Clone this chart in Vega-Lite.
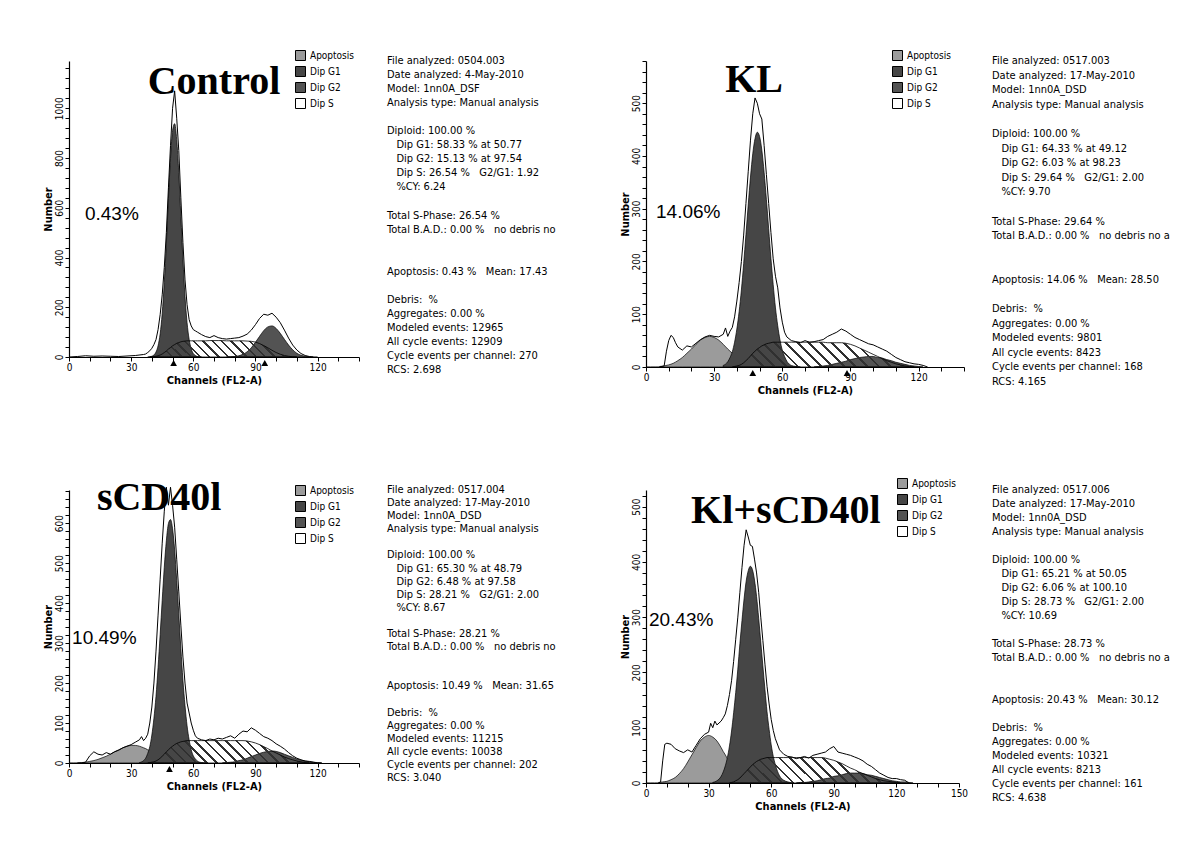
{
"$schema": "https://vega.github.io/schema/vega-lite/v6.json",
"background": "white",
"padding": {"left": 42, "top": 50, "right": 2, "bottom": 2},
"config": {
  "view": {"stroke": null},
  "font": "Liberation Sans Narrow, DejaVu Sans Condensed, Liberation Sans, sans-serif",
  "axis": {"grid": false, "domain": true, "ticks": true, "domainColor": "#000", "tickColor": "#000", "labelColor": "#000", "titleColor": "#000", "labelFontSize": 10, "titleFontSize": 11, "titleFontWeight": "bold", "tickSize": 4, "tickWidth": 1, "domainWidth": 1.2, "labelPadding": 1, "titlePadding": 2, "labelOverlap": false, "labelFlush": false, "labelSeparation": 0},
  "axisY": {"labelAngle": 270, "titlePadding": 1},
  "legend": {"orient": "none", "title": null, "symbolType": "square", "symbolSize": 100, "symbolStrokeColor": "#000", "symbolStrokeWidth": 1, "labelFontSize": 10, "rowPadding": 1, "labelColor": "#000", "symbolOpacity": 1, "padding": 0}
},
"datasets": {
"info": [
 {"p":"C","t":"Control","pct":"0.43%"},
 {"p":"K","t":"KL","pct":"14.06%"},
 {"p":"S","t":"sCD40l","pct":"10.49%"},
 {"p":"B","t":"Kl+sCD40l","pct":"20.43%"}
],
"marks": [
 {"p":"C","m":50.5},{"p":"C","m":94.5},{"p":"K","m":47},{"p":"K","m":88.5},{"p":"S","m":48.5}
],
"stats": [
 {"p":"C","ln":0,"t":"File analyzed: 0504.003"},
 {"p":"C","ln":1,"t":"Date analyzed: 4-May-2010"},
 {"p":"C","ln":2,"t":"Model: 1nn0A_DSF"},
 {"p":"C","ln":3,"t":"Analysis type: Manual analysis"},
 {"p":"C","ln":5,"t":"Diploid: 100.00 %"},
 {"p":"C","ln":6,"t":"\u200b\u00a0\u00a0\u00a0Dip G1: 58.33 % at 50.77"},
 {"p":"C","ln":7,"t":"\u200b\u00a0\u00a0\u00a0Dip G2: 15.13 % at 97.54"},
 {"p":"C","ln":8,"t":"\u200b\u00a0\u00a0\u00a0Dip S: 26.54 %\u00a0\u00a0\u00a0G2/G1: 1.92"},
 {"p":"C","ln":9,"t":"\u200b\u00a0\u00a0\u00a0%CY: 6.24"},
 {"p":"C","ln":11,"t":"Total S-Phase: 26.54 %"},
 {"p":"C","ln":12,"t":"Total B.A.D.: 0.00 %\u00a0\u00a0\u00a0no debris no aggregates"},
 {"p":"C","ln":15,"t":"Apoptosis: 0.43 %\u00a0\u00a0\u00a0Mean: 17.43"},
 {"p":"C","ln":17,"t":"Debris:\u00a0\u00a0%"},
 {"p":"C","ln":18,"t":"Aggregates: 0.00 %"},
 {"p":"C","ln":19,"t":"Modeled events: 12965"},
 {"p":"C","ln":20,"t":"All cycle events: 12909"},
 {"p":"C","ln":21,"t":"Cycle events per channel: 270"},
 {"p":"C","ln":22,"t":"RCS: 2.698"},
 {"p":"K","ln":0,"t":"File analyzed: 0517.003"},
 {"p":"K","ln":1,"t":"Date analyzed: 17-May-2010"},
 {"p":"K","ln":2,"t":"Model: 1nn0A_DSD"},
 {"p":"K","ln":3,"t":"Analysis type: Manual analysis"},
 {"p":"K","ln":5,"t":"Diploid: 100.00 %"},
 {"p":"K","ln":6,"t":"\u200b\u00a0\u00a0\u00a0Dip G1: 64.33 % at 49.12"},
 {"p":"K","ln":7,"t":"\u200b\u00a0\u00a0\u00a0Dip G2: 6.03 % at 98.23"},
 {"p":"K","ln":8,"t":"\u200b\u00a0\u00a0\u00a0Dip S: 29.64 %\u00a0\u00a0\u00a0G2/G1: 2.00"},
 {"p":"K","ln":9,"t":"\u200b\u00a0\u00a0\u00a0%CY: 9.70"},
 {"p":"K","ln":11,"t":"Total S-Phase: 29.64 %"},
 {"p":"K","ln":12,"t":"Total B.A.D.: 0.00 %\u00a0\u00a0\u00a0no debris no aggregates"},
 {"p":"K","ln":15,"t":"Apoptosis: 14.06 %\u00a0\u00a0\u00a0Mean: 28.50"},
 {"p":"K","ln":17,"t":"Debris:\u00a0\u00a0%"},
 {"p":"K","ln":18,"t":"Aggregates: 0.00 %"},
 {"p":"K","ln":19,"t":"Modeled events: 9801"},
 {"p":"K","ln":20,"t":"All cycle events: 8423"},
 {"p":"K","ln":21,"t":"Cycle events per channel: 168"},
 {"p":"K","ln":22,"t":"RCS: 4.165"},
 {"p":"S","ln":0,"t":"File analyzed: 0517.004"},
 {"p":"S","ln":1,"t":"Date analyzed: 17-May-2010"},
 {"p":"S","ln":2,"t":"Model: 1nn0A_DSD"},
 {"p":"S","ln":3,"t":"Analysis type: Manual analysis"},
 {"p":"S","ln":5,"t":"Diploid: 100.00 %"},
 {"p":"S","ln":6,"t":"\u200b\u00a0\u00a0\u00a0Dip G1: 65.30 % at 48.79"},
 {"p":"S","ln":7,"t":"\u200b\u00a0\u00a0\u00a0Dip G2: 6.48 % at 97.58"},
 {"p":"S","ln":8,"t":"\u200b\u00a0\u00a0\u00a0Dip S: 28.21 %\u00a0\u00a0\u00a0G2/G1: 2.00"},
 {"p":"S","ln":9,"t":"\u200b\u00a0\u00a0\u00a0%CY: 8.67"},
 {"p":"S","ln":11,"t":"Total S-Phase: 28.21 %"},
 {"p":"S","ln":12,"t":"Total B.A.D.: 0.00 %\u00a0\u00a0\u00a0no debris no aggregates"},
 {"p":"S","ln":15,"t":"Apoptosis: 10.49 %\u00a0\u00a0\u00a0Mean: 31.65"},
 {"p":"S","ln":17,"t":"Debris:\u00a0\u00a0%"},
 {"p":"S","ln":18,"t":"Aggregates: 0.00 %"},
 {"p":"S","ln":19,"t":"Modeled events: 11215"},
 {"p":"S","ln":20,"t":"All cycle events: 10038"},
 {"p":"S","ln":21,"t":"Cycle events per channel: 202"},
 {"p":"S","ln":22,"t":"RCS: 3.040"},
 {"p":"B","ln":0,"t":"File analyzed: 0517.006"},
 {"p":"B","ln":1,"t":"Date analyzed: 17-May-2010"},
 {"p":"B","ln":2,"t":"Model: 1nn0A_DSD"},
 {"p":"B","ln":3,"t":"Analysis type: Manual analysis"},
 {"p":"B","ln":5,"t":"Diploid: 100.00 %"},
 {"p":"B","ln":6,"t":"\u200b\u00a0\u00a0\u00a0Dip G1: 65.21 % at 50.05"},
 {"p":"B","ln":7,"t":"\u200b\u00a0\u00a0\u00a0Dip G2: 6.06 % at 100.10"},
 {"p":"B","ln":8,"t":"\u200b\u00a0\u00a0\u00a0Dip S: 28.73 %\u00a0\u00a0\u00a0G2/G1: 2.00"},
 {"p":"B","ln":9,"t":"\u200b\u00a0\u00a0\u00a0%CY: 10.69"},
 {"p":"B","ln":11,"t":"Total S-Phase: 28.73 %"},
 {"p":"B","ln":12,"t":"Total B.A.D.: 0.00 %\u00a0\u00a0\u00a0no debris no aggregates"},
 {"p":"B","ln":15,"t":"Apoptosis: 20.43 %\u00a0\u00a0\u00a0Mean: 30.12"},
 {"p":"B","ln":17,"t":"Debris:\u00a0\u00a0%"},
 {"p":"B","ln":18,"t":"Aggregates: 0.00 %"},
 {"p":"B","ln":19,"t":"Modeled events: 10321"},
 {"p":"B","ln":20,"t":"All cycle events: 8213"},
 {"p":"B","ln":21,"t":"Cycle events per channel: 161"},
 {"p":"B","ln":22,"t":"RCS: 4.638"}
],
"hist": [
 {"p":"C","x":0,"o":0},{"p":"C","x":4,"o":2},{"p":"C","x":8,"o":5},{"p":"C","x":12,"o":3},{"p":"C","x":16,"o":4},{"p":"C","x":20,"o":3},{"p":"C","x":24,"o":2},{"p":"C","x":28,"o":4},{"p":"C","x":32,"o":6},{"p":"C","x":36,"o":10},{"p":"C","x":37,"o":12},
 {"p":"C","x":38,"o":18,"g1":0},{"p":"C","x":39,"o":25,"g1":1,"s":0},{"p":"C","x":40,"o":35,"g1":3,"s":1},{"p":"C","x":41,"o":50,"g1":8,"s":2},{"p":"C","x":42,"o":70,"g1":20,"s":3},{"p":"C","x":43,"o":110,"g1":45,"s":5},{"p":"C","x":44,"o":170,"g1":93,"s":8},{"p":"C","x":45,"o":250,"g1":176,"s":12},{"p":"C","x":46,"o":360,"g1":300,"s":18},{"p":"C","x":47,"o":500,"g1":458,"s":24},{"p":"C","x":48,"o":680,"g1":638,"s":32},{"p":"C","x":49,"o":850,"g1":799,"s":38},{"p":"C","x":50,"o":1000,"g1":911,"s":45},{"p":"C","x":51,"o":1070,"g1":938,"s":50},{"p":"C","x":52,"o":960,"g1":874,"s":55},{"p":"C","x":53,"o":830,"g1":741,"s":58},{"p":"C","x":54,"o":640,"g1":564,"s":61},{"p":"C","x":55,"o":460,"g1":393,"s":63},{"p":"C","x":56,"o":310,"g1":244,"s":64},{"p":"C","x":57,"o":210,"g1":138,"s":65},{"p":"C","x":58,"o":150,"g1":71,"s":65},{"p":"C","x":59,"o":125,"g1":33,"s":65},{"p":"C","x":60,"o":110,"g1":14,"s":65},{"p":"C","x":61,"o":105,"g1":6,"s":65},{"p":"C","x":62,"o":100,"g1":2,"s":65},{"p":"C","x":64,"o":90,"g1":0,"s":65},{"p":"C","x":66,"o":82,"s":65},{"p":"C","x":68,"o":78,"s":66},{"p":"C","x":70,"o":86,"s":66},{"p":"C","x":72,"o":78,"s":66},{"p":"C","x":74,"o":74,"s":66},{"p":"C","x":76,"o":72,"s":65,"g2":0},{"p":"C","x":78,"o":74,"s":65,"g2":1},{"p":"C","x":80,"o":76,"s":65,"g2":2},{"p":"C","x":82,"o":78,"s":65,"g2":5},{"p":"C","x":84,"o":84,"s":65,"g2":11},{"p":"C","x":86,"o":92,"s":64,"g2":21},{"p":"C","x":88,"o":108,"s":63,"g2":37},{"p":"C","x":90,"o":130,"s":60,"g2":59},{"p":"C","x":92,"o":155,"s":54,"g2":83},{"p":"C","x":94,"o":172,"s":46,"g2":106},{"p":"C","x":96,"o":168,"s":37,"g2":121},{"p":"C","x":98,"o":176,"s":27,"g2":125},{"p":"C","x":100,"o":160,"s":18,"g2":115},{"p":"C","x":102,"o":138,"s":11,"g2":95},{"p":"C","x":104,"o":108,"s":6,"g2":71},{"p":"C","x":106,"o":76,"s":3,"g2":48},{"p":"C","x":108,"o":48,"s":1,"g2":29},{"p":"C","x":110,"o":28,"s":0,"g2":15},{"p":"C","x":112,"o":14,"g2":7},{"p":"C","x":114,"o":6,"g2":3},{"p":"C","x":116,"o":2,"g2":1},{"p":"C","x":118,"o":0,"g2":0},{"p":"C","x":120,"o":0},

 {"p":"K","x":0,"o":0},{"p":"K","x":2,"o":0},{"p":"K","x":4,"o":0},{"p":"K","x":6,"o":0,"a":1},{"p":"K","x":8,"o":2,"a":2},{"p":"K","x":9,"o":30},{"p":"K","x":10,"o":50,"a":4},{"p":"K","x":11,"o":60},{"p":"K","x":12,"o":56,"a":7},{"p":"K","x":13,"o":46},{"p":"K","x":14,"o":38,"a":12},{"p":"K","x":16,"o":32,"a":18},{"p":"K","x":18,"o":40,"a":26},{"p":"K","x":20,"o":38,"a":34},{"p":"K","x":22,"o":45,"a":43},{"p":"K","x":24,"o":52,"a":51},{"p":"K","x":26,"o":57,"a":56},{"p":"K","x":28,"o":60,"a":58},{"p":"K","x":30,"o":58,"a":56},{"p":"K","x":32,"o":57,"a":51},{"p":"K","x":34,"o":62,"a":43,"g1":3},{"p":"K","x":35,"o":74},{"p":"K","x":36,"o":58,"a":34,"g1":10},{"p":"K","x":37,"o":68,"a":30,"g1":18},{"p":"K","x":38,"o":75,"a":26,"g1":29,"s":0},{"p":"K","x":39,"o":95,"a":21,"g1":47,"s":1},{"p":"K","x":40,"o":125,"a":18,"g1":72,"s":2},{"p":"K","x":41,"o":160,"a":14,"g1":105,"s":3},{"p":"K","x":42,"o":200,"a":12,"g1":146,"s":5},{"p":"K","x":43,"o":250,"a":9,"g1":196,"s":8},{"p":"K","x":44,"o":310,"a":7,"g1":251,"s":12},{"p":"K","x":45,"o":370,"a":5,"g1":307,"s":16},{"p":"K","x":46,"o":430,"a":4,"g1":360,"s":21},{"p":"K","x":47,"o":480,"a":3,"g1":404,"s":26},{"p":"K","x":48,"o":510,"a":2,"g1":433,"s":30},{"p":"K","x":49,"o":500,"a":2,"g1":445,"s":34},{"p":"K","x":50,"o":480,"a":1,"g1":437,"s":37},{"p":"K","x":51,"o":470,"a":1,"g1":411,"s":40},{"p":"K","x":52,"o":420,"a":0,"g1":369,"s":42},{"p":"K","x":53,"o":365,"g1":318,"s":44},{"p":"K","x":54,"o":310,"g1":262,"s":45},{"p":"K","x":55,"o":255,"g1":206,"s":46},{"p":"K","x":56,"o":205,"g1":156,"s":47},{"p":"K","x":57,"o":172,"g1":112,"s":47},{"p":"K","x":58,"o":150,"g1":78,"s":47},{"p":"K","x":59,"o":112,"g1":51,"s":47},{"p":"K","x":60,"o":85,"g1":32,"s":47},{"p":"K","x":61,"o":66,"g1":20,"s":47},{"p":"K","x":62,"o":57,"g1":11,"s":47},{"p":"K","x":64,"o":50,"g1":3,"s":47},{"p":"K","x":66,"o":48,"g1":1,"s":47},{"p":"K","x":68,"o":46,"g1":0,"s":47},{"p":"K","x":70,"o":50,"s":47},{"p":"K","x":72,"o":47,"s":47},{"p":"K","x":74,"o":48,"s":47,"g2":0},{"p":"K","x":76,"o":50,"s":47,"g2":1},{"p":"K","x":78,"o":52,"s":47,"g2":2},{"p":"K","x":80,"o":58,"s":46,"g2":3},{"p":"K","x":82,"o":62,"s":46,"g2":5},{"p":"K","x":84,"o":66,"s":46,"g2":7},{"p":"K","x":86,"o":72,"s":46,"g2":9},{"p":"K","x":88,"o":68,"s":45,"g2":11},{"p":"K","x":90,"o":62,"s":43,"g2":14},{"p":"K","x":92,"o":56,"s":40,"g2":16},{"p":"K","x":94,"o":52,"s":36,"g2":18},{"p":"K","x":96,"o":48,"s":32,"g2":19},{"p":"K","x":98,"o":44,"s":28,"g2":20},{"p":"K","x":100,"o":42,"s":24,"g2":20},{"p":"K","x":102,"o":38,"s":20,"g2":18},{"p":"K","x":104,"o":34,"s":16,"g2":17},{"p":"K","x":106,"o":30,"s":12,"g2":14},{"p":"K","x":108,"o":24,"s":9,"g2":12},{"p":"K","x":110,"o":18,"s":6,"g2":9},{"p":"K","x":112,"o":14,"s":4,"g2":7},{"p":"K","x":114,"o":10,"s":2,"g2":5},{"p":"K","x":116,"o":8,"s":1,"g2":3},{"p":"K","x":118,"o":6,"s":0,"g2":2},{"p":"K","x":120,"o":5,"g2":1},{"p":"K","x":122,"o":3,"g2":0},{"p":"K","x":124,"o":0},

 {"p":"S","x":0,"o":0},{"p":"S","x":2,"o":0},{"p":"S","x":4,"o":0,"a":0},{"p":"S","x":6,"o":0,"a":1},{"p":"S","x":8,"o":2,"a":2},{"p":"S","x":10,"o":18,"a":4},{"p":"S","x":12,"o":28,"a":6},{"p":"S","x":14,"o":22,"a":9},{"p":"S","x":16,"o":20,"a":13},{"p":"S","x":18,"o":26,"a":17},{"p":"S","x":20,"o":22,"a":22},{"p":"S","x":22,"o":28,"a":28},{"p":"S","x":24,"o":32,"a":33},{"p":"S","x":26,"o":38,"a":38},{"p":"S","x":28,"o":42,"a":42},{"p":"S","x":30,"o":46,"a":44},{"p":"S","x":32,"o":52,"a":44},{"p":"S","x":34,"o":58,"a":42,"g1":1},{"p":"S","x":35,"o":66},{"p":"S","x":36,"o":56,"a":38,"g1":6},{"p":"S","x":37,"o":62,"a":36,"g1":12},{"p":"S","x":38,"o":72,"a":33,"g1":24,"s":0},{"p":"S","x":39,"o":100,"a":31,"g1":41,"s":1},{"p":"S","x":40,"o":140,"a":28,"g1":70,"s":2},{"p":"S","x":41,"o":200,"a":25,"g1":112,"s":3},{"p":"S","x":42,"o":280,"a":22,"g1":167,"s":5},{"p":"S","x":43,"o":370,"a":20,"g1":239,"s":8},{"p":"S","x":44,"o":460,"a":17,"g1":321,"s":12},{"p":"S","x":45,"o":550,"a":15,"g1":407,"s":17},{"p":"S","x":46,"o":630,"a":13,"g1":490,"s":22},{"p":"S","x":47,"o":690,"a":11,"g1":556,"s":28},{"p":"S","x":48,"o":645,"a":9,"g1":599,"s":33},{"p":"S","x":49,"o":690,"a":7,"g1":609,"s":38},{"p":"S","x":50,"o":645,"a":6,"g1":586,"s":42},{"p":"S","x":51,"o":590,"a":5,"g1":533,"s":46},{"p":"S","x":52,"o":510,"a":4,"g1":457,"s":49},{"p":"S","x":53,"o":428,"a":3,"g1":373,"s":51},{"p":"S","x":54,"o":345,"a":3,"g1":287,"s":53},{"p":"S","x":55,"o":265,"a":2,"g1":207,"s":54},{"p":"S","x":56,"o":200,"a":2,"g1":144,"s":55},{"p":"S","x":57,"o":150,"a":1,"g1":93,"s":56},{"p":"S","x":58,"o":125,"a":1,"g1":58,"s":56},{"p":"S","x":59,"o":100,"a":1,"g1":33,"s":56},{"p":"S","x":60,"o":82,"a":0,"g1":18,"s":56},{"p":"S","x":61,"o":68,"g1":10,"s":56},{"p":"S","x":62,"o":62,"g1":5,"s":56},{"p":"S","x":64,"o":58,"g1":1,"s":56},{"p":"S","x":66,"o":56,"g1":0,"s":56},{"p":"S","x":68,"o":60,"s":56},{"p":"S","x":70,"o":58,"s":56},{"p":"S","x":72,"o":62,"s":56},{"p":"S","x":74,"o":60,"s":56,"g2":0},{"p":"S","x":76,"o":64,"s":56,"g2":1},{"p":"S","x":78,"o":68,"s":56,"g2":2},{"p":"S","x":80,"o":62,"s":56,"g2":3},{"p":"S","x":82,"o":72,"s":56,"g2":6},{"p":"S","x":84,"o":80,"s":56,"g2":8},{"p":"S","x":86,"o":78,"s":55,"g2":12},{"p":"S","x":88,"o":88,"s":53,"g2":16},{"p":"S","x":90,"o":82,"s":50,"g2":20},{"p":"S","x":92,"o":74,"s":46,"g2":24},{"p":"S","x":94,"o":66,"s":41,"g2":27},{"p":"S","x":96,"o":62,"s":36,"g2":29},{"p":"S","x":98,"o":56,"s":30,"g2":30},{"p":"S","x":100,"o":48,"s":25,"g2":29},{"p":"S","x":102,"o":42,"s":20,"g2":26},{"p":"S","x":104,"o":35,"s":15,"g2":22},{"p":"S","x":106,"o":26,"s":11,"g2":18},{"p":"S","x":108,"o":18,"s":8,"g2":14},{"p":"S","x":110,"o":12,"s":5,"g2":10},{"p":"S","x":112,"o":8,"s":3,"g2":7},{"p":"S","x":114,"o":5,"s":1,"g2":5},{"p":"S","x":116,"o":4,"s":0,"g2":3},{"p":"S","x":118,"o":2,"g2":2},{"p":"S","x":120,"o":0,"g2":1},{"p":"S","x":122,"o":0,"g2":0},

 {"p":"B","x":0,"o":0},{"p":"B","x":2,"o":0},{"p":"B","x":4,"o":0},{"p":"B","x":6,"o":0,"a":1},{"p":"B","x":7,"o":2},{"p":"B","x":8,"o":40,"a":2},{"p":"B","x":9,"o":70},{"p":"B","x":10,"o":72,"a":3},{"p":"B","x":12,"o":70,"a":6},{"p":"B","x":14,"o":62,"a":10},{"p":"B","x":16,"o":58,"a":17},{"p":"B","x":18,"o":55,"a":26},{"p":"B","x":20,"o":60,"a":38},{"p":"B","x":22,"o":56,"a":51},{"p":"B","x":24,"o":68,"a":64},{"p":"B","x":26,"o":80,"a":76},{"p":"B","x":28,"o":88,"a":83},{"p":"B","x":30,"o":92,"a":86},{"p":"B","x":31,"o":108},{"p":"B","x":32,"o":100,"a":83,"g1":1},{"p":"B","x":33,"o":112},{"p":"B","x":34,"o":105,"a":76,"g1":4},{"p":"B","x":36,"o":112,"a":64,"g1":12},{"p":"B","x":37,"o":118,"a":57,"g1":20},{"p":"B","x":38,"o":125,"a":51,"g1":31},{"p":"B","x":39,"o":140,"a":44,"g1":46},{"p":"B","x":40,"o":160,"a":38,"g1":67,"s":0},{"p":"B","x":41,"o":185,"a":32,"g1":94,"s":1},{"p":"B","x":42,"o":220,"a":26,"g1":127,"s":2},{"p":"B","x":43,"o":260,"a":21,"g1":164,"s":4},{"p":"B","x":44,"o":300,"a":17,"g1":206,"s":6},{"p":"B","x":45,"o":345,"a":14,"g1":252,"s":9},{"p":"B","x":46,"o":390,"a":10,"g1":294,"s":13},{"p":"B","x":47,"o":430,"a":8,"g1":333,"s":17},{"p":"B","x":48,"o":458,"a":6,"g1":365,"s":21},{"p":"B","x":49,"o":445,"a":5,"g1":384,"s":25},{"p":"B","x":50,"o":430,"a":3,"g1":392,"s":29},{"p":"B","x":51,"o":428,"a":3,"g1":386,"s":33},{"p":"B","x":52,"o":405,"a":2,"g1":367,"s":36},{"p":"B","x":53,"o":380,"a":1,"g1":337,"s":39},{"p":"B","x":54,"o":345,"a":1,"g1":298,"s":41},{"p":"B","x":55,"o":300,"a":0,"g1":255,"s":43},{"p":"B","x":56,"o":258,"g1":212,"s":44},{"p":"B","x":57,"o":215,"g1":169,"s":45},{"p":"B","x":58,"o":175,"g1":129,"s":46},{"p":"B","x":59,"o":143,"g1":97,"s":46},{"p":"B","x":60,"o":115,"g1":69,"s":46},{"p":"B","x":61,"o":95,"g1":48,"s":46},{"p":"B","x":62,"o":80,"g1":33,"s":46},{"p":"B","x":64,"o":60,"g1":13,"s":46},{"p":"B","x":66,"o":52,"g1":5,"s":46},{"p":"B","x":68,"o":48,"g1":2,"s":46},{"p":"B","x":70,"o":47,"g1":0,"s":46},{"p":"B","x":72,"o":44,"s":46,"g2":0},{"p":"B","x":74,"o":46,"s":46,"g2":1},{"p":"B","x":76,"o":48,"s":46,"g2":1},{"p":"B","x":78,"o":45,"s":46,"g2":2},{"p":"B","x":80,"o":50,"s":46,"g2":3},{"p":"B","x":82,"o":52,"s":46,"g2":4},{"p":"B","x":84,"o":54,"s":46,"g2":6},{"p":"B","x":86,"o":56,"s":45,"g2":8},{"p":"B","x":88,"o":62,"s":43,"g2":9},{"p":"B","x":90,"o":66,"s":41,"g2":12},{"p":"B","x":92,"o":56,"s":38,"g2":13},{"p":"B","x":94,"o":54,"s":35,"g2":15},{"p":"B","x":96,"o":52,"s":31,"g2":17},{"p":"B","x":98,"o":50,"s":27,"g2":18},{"p":"B","x":100,"o":47,"s":24,"g2":18},{"p":"B","x":102,"o":44,"s":20,"g2":18},{"p":"B","x":104,"o":40,"s":17,"g2":17},{"p":"B","x":106,"o":34,"s":14,"g2":15},{"p":"B","x":108,"o":30,"s":11,"g2":14},{"p":"B","x":110,"o":24,"s":8,"g2":12},{"p":"B","x":112,"o":18,"s":6,"g2":10},{"p":"B","x":114,"o":14,"s":4,"g2":8},{"p":"B","x":116,"o":10,"s":3,"g2":6},{"p":"B","x":118,"o":8,"s":2,"g2":4},{"p":"B","x":120,"o":8,"s":1,"g2":3},{"p":"B","x":122,"o":6,"s":0,"g2":2},{"p":"B","x":124,"o":5,"g2":2},{"p":"B","x":126,"o":0,"g2":1},{"p":"B","x":128,"g2":0}
]
},
"columns": 4,
"spacing": {"row": 108, "column": 28},
"bounds": "flush",
"resolve": {"scale": {"color": "independent"}, "legend": {"color": "independent"}},
"concat": [
  {
   "width": 290, "height": 296,
   "layer": [
    {"data": {"name": "hist"}, "transform": [{"filter": "datum.p == 'C'"}, {"fold": ["a","g1","g2"], "as": ["k","v"]}],
     "mark": {"type": "area", "interpolate": "monotone", "stroke": "#000", "strokeWidth": 0.7, "opacity": 1, "invalid": "filter"},
     "encoding": {
      "x": {"field": "x", "type": "quantitative", "scale": {"domain": [0,140], "nice": false, "zero": false}, "axis": {"title": "Channels (FL2-A)", "tickCount": 500, "format": "d", "labelOverlap": false, "values": [0,10,20,30,40,50,60,70,80,90,100,110,120,130,140], "labelExpr": "datum.value % 30 == 0 ? datum.label : ''"}},
      "y": {"field": "v", "type": "quantitative", "stack": null, "scale": {"domain": [0,1190], "nice": false}, "axis": {"title": "Number", "tickCount": 500, "labelOverlap": false, "format": "d", "values": [0,40,80,120,160,200,240,280,320,360,400,440,480,520,560,600,640,680,720,760,800,840,880,920,960,1000,1040,1080,1120,1160], "labelExpr": "datum.value % 200 == 0 ? datum.label : ''"}},
      "color": {"field": "k", "type": "nominal", "scale": {"domain": ["a","g1","g2","s"], "range": ["#9b9b9b","#464646","#535353","#ffffff"]}, "legend": {"legendX": 226, "legendY": -11, "labelExpr": "datum.label == 'a' ? 'Apoptosis' : datum.label == 'g1' ? 'Dip G1' : datum.label == 'g2' ? 'Dip G2' : 'Dip S'"}}
     }},
    {"data": {"name": "hist"}, "transform": [{"filter": "datum.p == 'C'"}],
     "mark": {"type": "area", "interpolate": "monotone", "stroke": "#000", "strokeWidth": 0.8, "opacity": 1, "invalid": "filter",
      "fill": {"gradient": "linear", "x1": 0, "y1": 0.112, "x2": 1, "y2": 0, "stops": [{"offset":0,"color":"rgba(0,0,0,0)"},{"offset":0.047,"color":"rgba(0,0,0,0)"},{"offset":0.047,"color":"#303030"},{"offset":0.0625,"color":"#303030"},{"offset":0.0625,"color":"rgba(0,0,0,0)"},{"offset":0.1094,"color":"rgba(0,0,0,0)"},{"offset":0.1094,"color":"#303030"},{"offset":0.125,"color":"#303030"},{"offset":0.125,"color":"rgba(0,0,0,0)"},{"offset":0.1719,"color":"rgba(0,0,0,0)"},{"offset":0.1719,"color":"#303030"},{"offset":0.1875,"color":"#303030"},{"offset":0.1875,"color":"rgba(0,0,0,0)"},{"offset":0.2344,"color":"rgba(0,0,0,0)"},{"offset":0.2344,"color":"#303030"},{"offset":0.25,"color":"#303030"},{"offset":0.25,"color":"rgba(0,0,0,0)"},{"offset":0.2969,"color":"rgba(0,0,0,0)"},{"offset":0.2969,"color":"#303030"},{"offset":0.3125,"color":"#303030"},{"offset":0.3125,"color":"rgba(0,0,0,0)"},{"offset":0.3594,"color":"rgba(0,0,0,0)"},{"offset":0.3594,"color":"#303030"},{"offset":0.375,"color":"#303030"},{"offset":0.375,"color":"rgba(0,0,0,0)"},{"offset":0.4219,"color":"rgba(0,0,0,0)"},{"offset":0.4219,"color":"#303030"},{"offset":0.4375,"color":"#303030"},{"offset":0.4375,"color":"rgba(0,0,0,0)"},{"offset":0.4844,"color":"rgba(0,0,0,0)"},{"offset":0.4844,"color":"#303030"},{"offset":0.5,"color":"#303030"},{"offset":0.5,"color":"rgba(0,0,0,0)"},{"offset":0.5469,"color":"rgba(0,0,0,0)"},{"offset":0.5469,"color":"#303030"},{"offset":0.5625,"color":"#303030"},{"offset":0.5625,"color":"rgba(0,0,0,0)"},{"offset":0.6094,"color":"rgba(0,0,0,0)"},{"offset":0.6094,"color":"#303030"},{"offset":0.625,"color":"#303030"},{"offset":0.625,"color":"rgba(0,0,0,0)"},{"offset":0.6719,"color":"rgba(0,0,0,0)"},{"offset":0.6719,"color":"#303030"},{"offset":0.6875,"color":"#303030"},{"offset":0.6875,"color":"rgba(0,0,0,0)"},{"offset":0.7344,"color":"rgba(0,0,0,0)"},{"offset":0.7344,"color":"#303030"},{"offset":0.75,"color":"#303030"},{"offset":0.75,"color":"rgba(0,0,0,0)"},{"offset":0.7969,"color":"rgba(0,0,0,0)"},{"offset":0.7969,"color":"#303030"},{"offset":0.8125,"color":"#303030"},{"offset":0.8125,"color":"rgba(0,0,0,0)"},{"offset":0.8594,"color":"rgba(0,0,0,0)"},{"offset":0.8594,"color":"#303030"},{"offset":0.875,"color":"#303030"},{"offset":0.875,"color":"rgba(0,0,0,0)"},{"offset":0.9219,"color":"rgba(0,0,0,0)"},{"offset":0.9219,"color":"#303030"},{"offset":0.9375,"color":"#303030"},{"offset":0.9375,"color":"rgba(0,0,0,0)"},{"offset":0.9844,"color":"rgba(0,0,0,0)"},{"offset":0.9844,"color":"#303030"},{"offset":1,"color":"#303030"}]}},
     "encoding": {
      "x": {"field": "x", "type": "quantitative", "scale": {"domain": [0,140], "nice": false, "zero": false}},
      "y": {"field": "s", "type": "quantitative", "scale": {"domain": [0,1190], "nice": false}}
     }},
    {"data": {"name": "hist"}, "transform": [{"filter": "datum.p == 'C'"}],
     "mark": {"type": "line", "color": "#000", "strokeWidth": 1, "invalid": "filter"},
     "encoding": {
      "x": {"field": "x", "type": "quantitative", "scale": {"domain": [0,140], "nice": false, "zero": false}},
      "y": {"field": "o", "type": "quantitative", "scale": {"domain": [0,1190], "nice": false}}
     }},
    {"data": {"name": "marks"}, "transform": [{"filter": "datum.p == 'C'"}],
     "mark": {"type": "point", "shape": "triangle-up", "filled": true, "color": "#000", "size": 45, "opacity": 1, "yOffset": 6},
     "encoding": {
      "x": {"field": "m", "type": "quantitative", "scale": {"domain": [0,140], "nice": false, "zero": false}},
      "y": {"datum": 0, "type": "quantitative", "scale": {"domain": [0,1190], "nice": false}}
     }},
    {"data": {"name": "info"}, "transform": [{"filter": "datum.p == 'C'"}],
     "mark": {"type": "text", "font": "Liberation Serif", "fontSize": 40, "fontWeight": "bold", "align": "center", "baseline": "alphabetic", "color": "#000"},
     "encoding": {
      "x": {"datum": 70, "type": "quantitative", "scale": {"domain": [0,140], "nice": false, "zero": false}},
      "y": {"datum": 1056, "type": "quantitative", "scale": {"domain": [0,1190], "nice": false}},
      "text": {"field": "t"}
     }},
    {"data": {"name": "info"}, "transform": [{"filter": "datum.p == 'C'"}],
     "mark": {"type": "text", "font": "Liberation Sans", "fontSize": 19, "align": "left", "baseline": "middle", "color": "#000"},
     "encoding": {
      "x": {"datum": 7.7, "type": "quantitative", "scale": {"domain": [0,140], "nice": false, "zero": false}},
      "y": {"datum": 574, "type": "quantitative", "scale": {"domain": [0,1190], "nice": false}},
      "text": {"field": "pct"}
     }}
   ]
  },
  {
   "width": 231, "height": 309,
   "data": {"name": "stats"}, "transform": [{"filter": "datum.p == 'C'"}],
   "mark": {"type": "text", "align": "left", "baseline": "middle", "fontSize": 11, "color": "#000", "limit": 177, "ellipsis": " "},
   "encoding": {
    "x": {"datum": 0, "type": "quantitative", "scale": {"domain": [0,1]}, "axis": null},
    "y": {"field": "ln", "type": "quantitative", "scale": {"domain": [0,22], "reverse": true, "nice": false, "zero": false}, "axis": null},
    "text": {"field": "t"}
   }
  },
  {
   "width": 318, "height": 306,
   "layer": [
    {"data": {"name": "hist"}, "transform": [{"filter": "datum.p == 'K'"}, {"fold": ["a","g1","g2"], "as": ["k","v"]}],
     "mark": {"type": "area", "interpolate": "monotone", "stroke": "#000", "strokeWidth": 0.7, "opacity": 1, "invalid": "filter"},
     "encoding": {
      "x": {"field": "x", "type": "quantitative", "scale": {"domain": [0,140], "nice": false, "zero": false}, "axis": {"title": "Channels (FL2-A)", "tickCount": 500, "format": "d", "labelOverlap": false, "values": [0,10,20,30,40,50,60,70,80,90,100,110,120,130,140], "labelExpr": "datum.value % 30 == 0 ? datum.label : ''"}},
      "y": {"field": "v", "type": "quantitative", "stack": null, "scale": {"domain": [0,580], "nice": false}, "axis": {"title": "Number", "tickCount": 500, "labelOverlap": false, "format": "d", "values": [0,20,40,60,80,100,120,140,160,180,200,220,240,260,280,300,320,340,360,380,400,420,440,460,480,500,520,540,560,580], "labelExpr": "datum.value % 100 == 0 ? datum.label : ''"}},
      "color": {"field": "k", "type": "nominal", "scale": {"domain": ["a","g1","g2","s"], "range": ["#9b9b9b","#464646","#535353","#ffffff"]}, "legend": {"legendX": 246, "legendY": -11, "labelExpr": "datum.label == 'a' ? 'Apoptosis' : datum.label == 'g1' ? 'Dip G1' : datum.label == 'g2' ? 'Dip G2' : 'Dip S'"}}
     }},
    {"data": {"name": "hist"}, "transform": [{"filter": "datum.p == 'K'"}],
     "mark": {"type": "area", "interpolate": "monotone", "stroke": "#000", "strokeWidth": 0.8, "opacity": 1, "invalid": "filter",
      "fill": {"gradient": "linear", "x1": 0, "y1": 0.136, "x2": 1, "y2": 0, "stops": [{"offset":0,"color":"rgba(0,0,0,0)"},{"offset":0.047,"color":"rgba(0,0,0,0)"},{"offset":0.047,"color":"#303030"},{"offset":0.0625,"color":"#303030"},{"offset":0.0625,"color":"rgba(0,0,0,0)"},{"offset":0.1094,"color":"rgba(0,0,0,0)"},{"offset":0.1094,"color":"#303030"},{"offset":0.125,"color":"#303030"},{"offset":0.125,"color":"rgba(0,0,0,0)"},{"offset":0.1719,"color":"rgba(0,0,0,0)"},{"offset":0.1719,"color":"#303030"},{"offset":0.1875,"color":"#303030"},{"offset":0.1875,"color":"rgba(0,0,0,0)"},{"offset":0.2344,"color":"rgba(0,0,0,0)"},{"offset":0.2344,"color":"#303030"},{"offset":0.25,"color":"#303030"},{"offset":0.25,"color":"rgba(0,0,0,0)"},{"offset":0.2969,"color":"rgba(0,0,0,0)"},{"offset":0.2969,"color":"#303030"},{"offset":0.3125,"color":"#303030"},{"offset":0.3125,"color":"rgba(0,0,0,0)"},{"offset":0.3594,"color":"rgba(0,0,0,0)"},{"offset":0.3594,"color":"#303030"},{"offset":0.375,"color":"#303030"},{"offset":0.375,"color":"rgba(0,0,0,0)"},{"offset":0.4219,"color":"rgba(0,0,0,0)"},{"offset":0.4219,"color":"#303030"},{"offset":0.4375,"color":"#303030"},{"offset":0.4375,"color":"rgba(0,0,0,0)"},{"offset":0.4844,"color":"rgba(0,0,0,0)"},{"offset":0.4844,"color":"#303030"},{"offset":0.5,"color":"#303030"},{"offset":0.5,"color":"rgba(0,0,0,0)"},{"offset":0.5469,"color":"rgba(0,0,0,0)"},{"offset":0.5469,"color":"#303030"},{"offset":0.5625,"color":"#303030"},{"offset":0.5625,"color":"rgba(0,0,0,0)"},{"offset":0.6094,"color":"rgba(0,0,0,0)"},{"offset":0.6094,"color":"#303030"},{"offset":0.625,"color":"#303030"},{"offset":0.625,"color":"rgba(0,0,0,0)"},{"offset":0.6719,"color":"rgba(0,0,0,0)"},{"offset":0.6719,"color":"#303030"},{"offset":0.6875,"color":"#303030"},{"offset":0.6875,"color":"rgba(0,0,0,0)"},{"offset":0.7344,"color":"rgba(0,0,0,0)"},{"offset":0.7344,"color":"#303030"},{"offset":0.75,"color":"#303030"},{"offset":0.75,"color":"rgba(0,0,0,0)"},{"offset":0.7969,"color":"rgba(0,0,0,0)"},{"offset":0.7969,"color":"#303030"},{"offset":0.8125,"color":"#303030"},{"offset":0.8125,"color":"rgba(0,0,0,0)"},{"offset":0.8594,"color":"rgba(0,0,0,0)"},{"offset":0.8594,"color":"#303030"},{"offset":0.875,"color":"#303030"},{"offset":0.875,"color":"rgba(0,0,0,0)"},{"offset":0.9219,"color":"rgba(0,0,0,0)"},{"offset":0.9219,"color":"#303030"},{"offset":0.9375,"color":"#303030"},{"offset":0.9375,"color":"rgba(0,0,0,0)"},{"offset":0.9844,"color":"rgba(0,0,0,0)"},{"offset":0.9844,"color":"#303030"},{"offset":1,"color":"#303030"}]}},
     "encoding": {
      "x": {"field": "x", "type": "quantitative", "scale": {"domain": [0,140], "nice": false, "zero": false}},
      "y": {"field": "s", "type": "quantitative", "scale": {"domain": [0,580], "nice": false}}
     }},
    {"data": {"name": "hist"}, "transform": [{"filter": "datum.p == 'K'"}],
     "mark": {"type": "line", "color": "#000", "strokeWidth": 1, "invalid": "filter"},
     "encoding": {
      "x": {"field": "x", "type": "quantitative", "scale": {"domain": [0,140], "nice": false, "zero": false}},
      "y": {"field": "o", "type": "quantitative", "scale": {"domain": [0,580], "nice": false}}
     }},
    {"data": {"name": "marks"}, "transform": [{"filter": "datum.p == 'K'"}],
     "mark": {"type": "point", "shape": "triangle-up", "filled": true, "color": "#000", "size": 45, "opacity": 1, "yOffset": 6},
     "encoding": {
      "x": {"field": "m", "type": "quantitative", "scale": {"domain": [0,140], "nice": false, "zero": false}},
      "y": {"datum": 0, "type": "quantitative", "scale": {"domain": [0,580], "nice": false}}
     }},
    {"data": {"name": "info"}, "transform": [{"filter": "datum.p == 'K'"}],
     "mark": {"type": "text", "font": "Liberation Serif", "fontSize": 40, "fontWeight": "bold", "align": "center", "baseline": "alphabetic", "color": "#000"},
     "encoding": {
      "x": {"datum": 47.6, "type": "quantitative", "scale": {"domain": [0,140], "nice": false, "zero": false}},
      "y": {"datum": 521, "type": "quantitative", "scale": {"domain": [0,580], "nice": false}},
      "text": {"field": "t"}
     }},
    {"data": {"name": "info"}, "transform": [{"filter": "datum.p == 'K'"}],
     "mark": {"type": "text", "font": "Liberation Sans", "fontSize": 19, "align": "left", "baseline": "middle", "color": "#000"},
     "encoding": {
      "x": {"datum": 4.4, "type": "quantitative", "scale": {"domain": [0,140], "nice": false, "zero": false}},
      "y": {"datum": 293, "type": "quantitative", "scale": {"domain": [0,580], "nice": false}},
      "text": {"field": "pct"}
     }}
   ]
  },
  {
   "width": 186, "height": 321,
   "data": {"name": "stats"}, "transform": [{"filter": "datum.p == 'K'"}],
   "mark": {"type": "text", "align": "left", "baseline": "middle", "fontSize": 11, "color": "#000", "limit": 186, "ellipsis": " "},
   "encoding": {
    "x": {"datum": 0, "type": "quantitative", "scale": {"domain": [0,1]}, "axis": null},
    "y": {"field": "ln", "type": "quantitative", "scale": {"domain": [0,22], "reverse": true, "nice": false, "zero": false}, "axis": null},
    "text": {"field": "t"}
   }
  },
  {
   "width": 290, "height": 273,
   "layer": [
    {"data": {"name": "hist"}, "transform": [{"filter": "datum.p == 'S'"}, {"fold": ["a","g1","g2"], "as": ["k","v"]}],
     "mark": {"type": "area", "interpolate": "monotone", "stroke": "#000", "strokeWidth": 0.7, "opacity": 1, "invalid": "filter"},
     "encoding": {
      "x": {"field": "x", "type": "quantitative", "scale": {"domain": [0,140], "nice": false, "zero": false}, "axis": {"title": "Channels (FL2-A)", "tickCount": 500, "format": "d", "labelOverlap": false, "values": [0,10,20,30,40,50,60,70,80,90,100,110,120,130,140], "labelExpr": "datum.value % 30 == 0 ? datum.label : ''"}},
      "y": {"field": "v", "type": "quantitative", "stack": null, "scale": {"domain": [0,683], "nice": false}, "axis": {"title": "Number", "tickCount": 500, "labelOverlap": false, "format": "d", "values": [0,20,40,60,80,100,120,140,160,180,200,220,240,260,280,300,320,340,360,380,400,420,440,460,480,500,520,540,560,580,600,620,640,660,680], "labelExpr": "datum.value % 100 == 0 ? datum.label : ''"}},
      "color": {"field": "k", "type": "nominal", "scale": {"domain": ["a","g1","g2","s"], "range": ["#9b9b9b","#464646","#535353","#ffffff"]}, "legend": {"legendX": 226, "legendY": -5, "labelExpr": "datum.label == 'a' ? 'Apoptosis' : datum.label == 'g1' ? 'Dip G1' : datum.label == 'g2' ? 'Dip G2' : 'Dip S'"}}
     }},
    {"data": {"name": "hist"}, "transform": [{"filter": "datum.p == 'S'"}],
     "mark": {"type": "area", "interpolate": "monotone", "stroke": "#000", "strokeWidth": 0.8, "opacity": 1, "invalid": "filter",
      "fill": {"gradient": "linear", "x1": 0, "y1": 0.139, "x2": 1, "y2": 0, "stops": [{"offset":0,"color":"rgba(0,0,0,0)"},{"offset":0.047,"color":"rgba(0,0,0,0)"},{"offset":0.047,"color":"#303030"},{"offset":0.0625,"color":"#303030"},{"offset":0.0625,"color":"rgba(0,0,0,0)"},{"offset":0.1094,"color":"rgba(0,0,0,0)"},{"offset":0.1094,"color":"#303030"},{"offset":0.125,"color":"#303030"},{"offset":0.125,"color":"rgba(0,0,0,0)"},{"offset":0.1719,"color":"rgba(0,0,0,0)"},{"offset":0.1719,"color":"#303030"},{"offset":0.1875,"color":"#303030"},{"offset":0.1875,"color":"rgba(0,0,0,0)"},{"offset":0.2344,"color":"rgba(0,0,0,0)"},{"offset":0.2344,"color":"#303030"},{"offset":0.25,"color":"#303030"},{"offset":0.25,"color":"rgba(0,0,0,0)"},{"offset":0.2969,"color":"rgba(0,0,0,0)"},{"offset":0.2969,"color":"#303030"},{"offset":0.3125,"color":"#303030"},{"offset":0.3125,"color":"rgba(0,0,0,0)"},{"offset":0.3594,"color":"rgba(0,0,0,0)"},{"offset":0.3594,"color":"#303030"},{"offset":0.375,"color":"#303030"},{"offset":0.375,"color":"rgba(0,0,0,0)"},{"offset":0.4219,"color":"rgba(0,0,0,0)"},{"offset":0.4219,"color":"#303030"},{"offset":0.4375,"color":"#303030"},{"offset":0.4375,"color":"rgba(0,0,0,0)"},{"offset":0.4844,"color":"rgba(0,0,0,0)"},{"offset":0.4844,"color":"#303030"},{"offset":0.5,"color":"#303030"},{"offset":0.5,"color":"rgba(0,0,0,0)"},{"offset":0.5469,"color":"rgba(0,0,0,0)"},{"offset":0.5469,"color":"#303030"},{"offset":0.5625,"color":"#303030"},{"offset":0.5625,"color":"rgba(0,0,0,0)"},{"offset":0.6094,"color":"rgba(0,0,0,0)"},{"offset":0.6094,"color":"#303030"},{"offset":0.625,"color":"#303030"},{"offset":0.625,"color":"rgba(0,0,0,0)"},{"offset":0.6719,"color":"rgba(0,0,0,0)"},{"offset":0.6719,"color":"#303030"},{"offset":0.6875,"color":"#303030"},{"offset":0.6875,"color":"rgba(0,0,0,0)"},{"offset":0.7344,"color":"rgba(0,0,0,0)"},{"offset":0.7344,"color":"#303030"},{"offset":0.75,"color":"#303030"},{"offset":0.75,"color":"rgba(0,0,0,0)"},{"offset":0.7969,"color":"rgba(0,0,0,0)"},{"offset":0.7969,"color":"#303030"},{"offset":0.8125,"color":"#303030"},{"offset":0.8125,"color":"rgba(0,0,0,0)"},{"offset":0.8594,"color":"rgba(0,0,0,0)"},{"offset":0.8594,"color":"#303030"},{"offset":0.875,"color":"#303030"},{"offset":0.875,"color":"rgba(0,0,0,0)"},{"offset":0.9219,"color":"rgba(0,0,0,0)"},{"offset":0.9219,"color":"#303030"},{"offset":0.9375,"color":"#303030"},{"offset":0.9375,"color":"rgba(0,0,0,0)"},{"offset":0.9844,"color":"rgba(0,0,0,0)"},{"offset":0.9844,"color":"#303030"},{"offset":1,"color":"#303030"}]}},
     "encoding": {
      "x": {"field": "x", "type": "quantitative", "scale": {"domain": [0,140], "nice": false, "zero": false}},
      "y": {"field": "s", "type": "quantitative", "scale": {"domain": [0,683], "nice": false}}
     }},
    {"data": {"name": "hist"}, "transform": [{"filter": "datum.p == 'S'"}],
     "mark": {"type": "line", "color": "#000", "strokeWidth": 1, "invalid": "filter"},
     "encoding": {
      "x": {"field": "x", "type": "quantitative", "scale": {"domain": [0,140], "nice": false, "zero": false}},
      "y": {"field": "o", "type": "quantitative", "scale": {"domain": [0,683], "nice": false}}
     }},
    {"data": {"name": "marks"}, "transform": [{"filter": "datum.p == 'S'"}],
     "mark": {"type": "point", "shape": "triangle-up", "filled": true, "color": "#000", "size": 45, "opacity": 1, "yOffset": 6},
     "encoding": {
      "x": {"field": "m", "type": "quantitative", "scale": {"domain": [0,140], "nice": false, "zero": false}},
      "y": {"datum": 0, "type": "quantitative", "scale": {"domain": [0,683], "nice": false}}
     }},
    {"data": {"name": "info"}, "transform": [{"filter": "datum.p == 'S'"}],
     "mark": {"type": "text", "font": "Liberation Serif", "fontSize": 40, "fontWeight": "bold", "align": "center", "baseline": "alphabetic", "color": "#000"},
     "encoding": {
      "x": {"datum": 43.5, "type": "quantitative", "scale": {"domain": [0,140], "nice": false, "zero": false}},
      "y": {"datum": 632, "type": "quantitative", "scale": {"domain": [0,683], "nice": false}},
      "text": {"field": "t"}
     }},
    {"data": {"name": "info"}, "transform": [{"filter": "datum.p == 'S'"}],
     "mark": {"type": "text", "font": "Liberation Sans", "fontSize": 19, "align": "left", "baseline": "middle", "color": "#000"},
     "encoding": {
      "x": {"datum": 1.5, "type": "quantitative", "scale": {"domain": [0,140], "nice": false, "zero": false}},
      "y": {"datum": 312, "type": "quantitative", "scale": {"domain": [0,683], "nice": false}},
      "text": {"field": "pct"}
     }}
   ]
  },
  {
   "width": 231, "height": 288,
   "data": {"name": "stats"}, "transform": [{"filter": "datum.p == 'S'"}],
   "mark": {"type": "text", "align": "left", "baseline": "middle", "fontSize": 11, "color": "#000", "limit": 178, "ellipsis": " "},
   "encoding": {
    "x": {"datum": 0, "type": "quantitative", "scale": {"domain": [0,1]}, "axis": null},
    "y": {"field": "ln", "type": "quantitative", "scale": {"domain": [0,22], "reverse": true, "nice": false, "zero": false}, "axis": null},
    "text": {"field": "t"}
   }
  },
  {
   "width": 313, "height": 293,
   "layer": [
    {"data": {"name": "hist"}, "transform": [{"filter": "datum.p == 'B'"}, {"fold": ["a","g1","g2"], "as": ["k","v"]}],
     "mark": {"type": "area", "interpolate": "monotone", "stroke": "#000", "strokeWidth": 0.7, "opacity": 1, "invalid": "filter"},
     "encoding": {
      "x": {"field": "x", "type": "quantitative", "scale": {"domain": [0,150], "nice": false, "zero": false}, "axis": {"title": "Channels (FL2-A)", "tickCount": 500, "format": "d", "labelOverlap": false, "values": [0,10,20,30,40,50,60,70,80,90,100,110,120,130,140,150], "labelExpr": "datum.value % 30 == 0 ? datum.label : ''"}},
      "y": {"field": "v", "type": "quantitative", "stack": null, "scale": {"domain": [0,530], "nice": false}, "axis": {"title": "Number", "tickCount": 500, "labelOverlap": false, "format": "d", "values": [0,20,40,60,80,100,120,140,160,180,200,220,240,260,280,300,320,340,360,380,400,420,440,460,480,500,520], "labelExpr": "datum.value % 100 == 0 ? datum.label : ''"}},
      "color": {"field": "k", "type": "nominal", "scale": {"domain": ["a","g1","g2","s"], "range": ["#9b9b9b","#464646","#535353","#ffffff"]}, "legend": {"legendX": 251, "legendY": -12, "labelExpr": "datum.label == 'a' ? 'Apoptosis' : datum.label == 'g1' ? 'Dip G1' : datum.label == 'g2' ? 'Dip G2' : 'Dip S'"}}
     }},
    {"data": {"name": "hist"}, "transform": [{"filter": "datum.p == 'B'"}],
     "mark": {"type": "area", "interpolate": "monotone", "stroke": "#000", "strokeWidth": 0.8, "opacity": 1, "invalid": "filter",
      "fill": {"gradient": "linear", "x1": 0, "y1": 0.149, "x2": 1, "y2": 0, "stops": [{"offset":0,"color":"rgba(0,0,0,0)"},{"offset":0.047,"color":"rgba(0,0,0,0)"},{"offset":0.047,"color":"#303030"},{"offset":0.0625,"color":"#303030"},{"offset":0.0625,"color":"rgba(0,0,0,0)"},{"offset":0.1094,"color":"rgba(0,0,0,0)"},{"offset":0.1094,"color":"#303030"},{"offset":0.125,"color":"#303030"},{"offset":0.125,"color":"rgba(0,0,0,0)"},{"offset":0.1719,"color":"rgba(0,0,0,0)"},{"offset":0.1719,"color":"#303030"},{"offset":0.1875,"color":"#303030"},{"offset":0.1875,"color":"rgba(0,0,0,0)"},{"offset":0.2344,"color":"rgba(0,0,0,0)"},{"offset":0.2344,"color":"#303030"},{"offset":0.25,"color":"#303030"},{"offset":0.25,"color":"rgba(0,0,0,0)"},{"offset":0.2969,"color":"rgba(0,0,0,0)"},{"offset":0.2969,"color":"#303030"},{"offset":0.3125,"color":"#303030"},{"offset":0.3125,"color":"rgba(0,0,0,0)"},{"offset":0.3594,"color":"rgba(0,0,0,0)"},{"offset":0.3594,"color":"#303030"},{"offset":0.375,"color":"#303030"},{"offset":0.375,"color":"rgba(0,0,0,0)"},{"offset":0.4219,"color":"rgba(0,0,0,0)"},{"offset":0.4219,"color":"#303030"},{"offset":0.4375,"color":"#303030"},{"offset":0.4375,"color":"rgba(0,0,0,0)"},{"offset":0.4844,"color":"rgba(0,0,0,0)"},{"offset":0.4844,"color":"#303030"},{"offset":0.5,"color":"#303030"},{"offset":0.5,"color":"rgba(0,0,0,0)"},{"offset":0.5469,"color":"rgba(0,0,0,0)"},{"offset":0.5469,"color":"#303030"},{"offset":0.5625,"color":"#303030"},{"offset":0.5625,"color":"rgba(0,0,0,0)"},{"offset":0.6094,"color":"rgba(0,0,0,0)"},{"offset":0.6094,"color":"#303030"},{"offset":0.625,"color":"#303030"},{"offset":0.625,"color":"rgba(0,0,0,0)"},{"offset":0.6719,"color":"rgba(0,0,0,0)"},{"offset":0.6719,"color":"#303030"},{"offset":0.6875,"color":"#303030"},{"offset":0.6875,"color":"rgba(0,0,0,0)"},{"offset":0.7344,"color":"rgba(0,0,0,0)"},{"offset":0.7344,"color":"#303030"},{"offset":0.75,"color":"#303030"},{"offset":0.75,"color":"rgba(0,0,0,0)"},{"offset":0.7969,"color":"rgba(0,0,0,0)"},{"offset":0.7969,"color":"#303030"},{"offset":0.8125,"color":"#303030"},{"offset":0.8125,"color":"rgba(0,0,0,0)"},{"offset":0.8594,"color":"rgba(0,0,0,0)"},{"offset":0.8594,"color":"#303030"},{"offset":0.875,"color":"#303030"},{"offset":0.875,"color":"rgba(0,0,0,0)"},{"offset":0.9219,"color":"rgba(0,0,0,0)"},{"offset":0.9219,"color":"#303030"},{"offset":0.9375,"color":"#303030"},{"offset":0.9375,"color":"rgba(0,0,0,0)"},{"offset":0.9844,"color":"rgba(0,0,0,0)"},{"offset":0.9844,"color":"#303030"},{"offset":1,"color":"#303030"}]}},
     "encoding": {
      "x": {"field": "x", "type": "quantitative", "scale": {"domain": [0,150], "nice": false, "zero": false}},
      "y": {"field": "s", "type": "quantitative", "scale": {"domain": [0,530], "nice": false}}
     }},
    {"data": {"name": "hist"}, "transform": [{"filter": "datum.p == 'B'"}],
     "mark": {"type": "line", "color": "#000", "strokeWidth": 1, "invalid": "filter"},
     "encoding": {
      "x": {"field": "x", "type": "quantitative", "scale": {"domain": [0,150], "nice": false, "zero": false}},
      "y": {"field": "o", "type": "quantitative", "scale": {"domain": [0,530], "nice": false}}
     }},
    {"data": {"name": "info"}, "transform": [{"filter": "datum.p == 'B'"}],
     "mark": {"type": "text", "font": "Liberation Serif", "fontSize": 40, "fontWeight": "bold", "align": "center", "baseline": "alphabetic", "color": "#000"},
     "encoding": {
      "x": {"datum": 67, "type": "quantitative", "scale": {"domain": [0,150], "nice": false, "zero": false}},
      "y": {"datum": 470, "type": "quantitative", "scale": {"domain": [0,530], "nice": false}},
      "text": {"field": "t"}
     }},
    {"data": {"name": "info"}, "transform": [{"filter": "datum.p == 'B'"}],
     "mark": {"type": "text", "font": "Liberation Sans", "fontSize": 19, "align": "left", "baseline": "middle", "color": "#000"},
     "encoding": {
      "x": {"datum": 1.4, "type": "quantitative", "scale": {"domain": [0,150], "nice": false, "zero": false}},
      "y": {"datum": 294, "type": "quantitative", "scale": {"domain": [0,530], "nice": false}},
      "text": {"field": "pct"}
     }}
   ]
  },
  {
   "width": 185, "height": 308,
   "data": {"name": "stats"}, "transform": [{"filter": "datum.p == 'B'"}],
   "mark": {"type": "text", "align": "left", "baseline": "middle", "fontSize": 11, "color": "#000", "limit": 185, "ellipsis": " "},
   "encoding": {
    "x": {"datum": 0, "type": "quantitative", "scale": {"domain": [0,1]}, "axis": null},
    "y": {"field": "ln", "type": "quantitative", "scale": {"domain": [0,22], "reverse": true, "nice": false, "zero": false}, "axis": null},
    "text": {"field": "t"}
   }
  }
]
}
